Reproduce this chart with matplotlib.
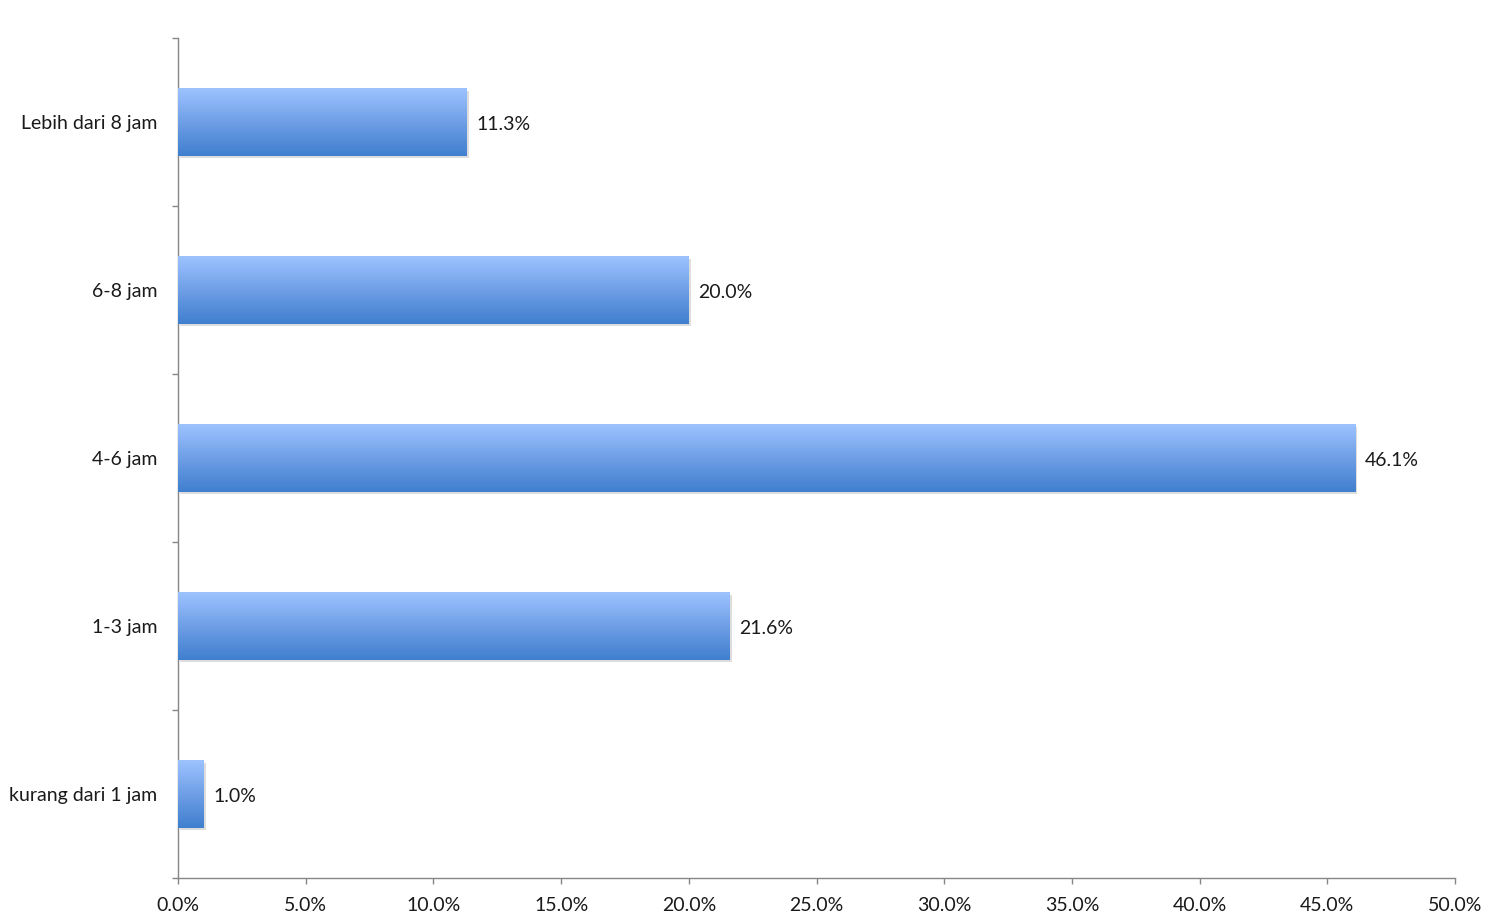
import numpy as np
import matplotlib.pyplot as plt
import matplotlib.patheffects as pe
from matplotlib.colors import LinearSegmentedColormap
from matplotlib.ticker import FuncFormatter

# --- Data ---
categories = ['kurang dari 1 jam', '1-3 jam', '4-6 jam', '6-8 jam', 'Lebih dari 8 jam']
values = [1.0, 21.6, 46.1, 20.0, 11.3]
x_ticks = [0, 5, 10, 15, 20, 25, 30, 35, 40, 45, 50]

plt.rcParams['font.family'] = ['Lato', 'DejaVu Sans']

fig = plt.figure(figsize=(15.11, 9.21), dpi=100)
ax = fig.add_axes([178 / 1511, 1 - 878 / 921, (1455 - 178) / 1511, (878 - 38) / 921])

grad = LinearSegmentedColormap.from_list('bar', ['#3f7fcf', '#6f9fe6', '#9dc3ff'])
shade = np.linspace(0, 1, 256).reshape(-1, 1)

ypos = np.arange(len(categories))
bars = ax.barh(ypos, values, height=0.4, color='#3f7fcf', edgecolor='none',
               zorder=2)
for bar in bars:
    bar.set_path_effects([pe.SimplePatchShadow(offset=(1.5, -2), shadow_rgbFace='#909090', alpha=0.3),
                          pe.Normal()])
    x0, y0 = bar.get_x(), bar.get_y()
    w, h = bar.get_width(), bar.get_height()
    im = ax.imshow(shade, cmap=grad, extent=[x0, x0 + w, y0, y0 + h],
                   origin='lower', aspect='auto', zorder=3)
    im.set_clip_path(bar)

for y, v in zip(ypos, values):
    ax.annotate(f'{v:.1f}%', xy=(v, y), xytext=(7, -1.5), textcoords='offset points',
                ha='left', va='center', fontsize=14, color='#1a1a1a')

ax.set_xlim(0, 50)
ax.set_ylim(-0.5, len(categories) - 0.5)
ax.set_xticks(x_ticks)
ax.xaxis.set_major_formatter(FuncFormatter(lambda v, p: f'{v:.1f}%'))

ax.set_yticks(np.arange(-0.5, len(categories), 1.0))
ax.set_yticklabels([])
ax.set_yticks(ypos, minor=True)
ax.set_yticklabels(categories, minor=True)

ax.tick_params(axis='x', direction='out', length=4, width=1, color='#868686',
               labelsize=14, pad=10, labelcolor='#1a1a1a')
ax.tick_params(axis='y', which='major', direction='out', length=4, width=1, color='#868686')
ax.tick_params(axis='y', which='minor', length=0, pad=15, labelsize=14, labelcolor='#1a1a1a')

for s in ['top', 'right']:
    ax.spines[s].set_visible(False)
for s in ['left', 'bottom']:
    ax.spines[s].set_color('#868686')
    ax.spines[s].set_linewidth(1)

fig.savefig('out.png', dpi=100, facecolor='white')
